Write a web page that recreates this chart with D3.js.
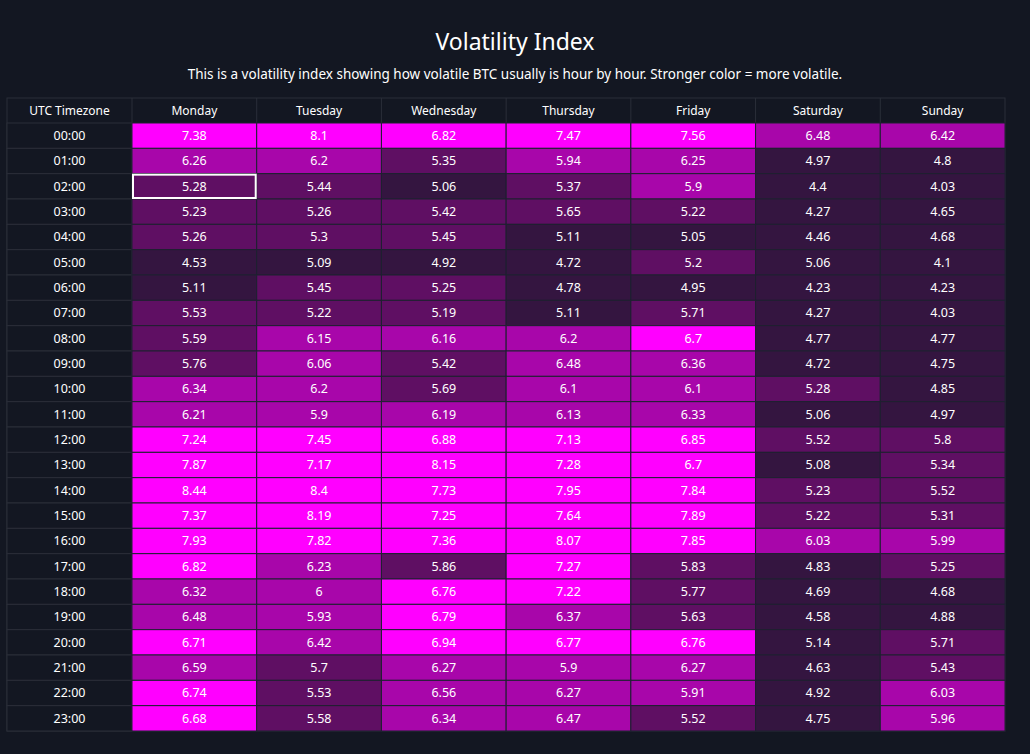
<!DOCTYPE html>
<html>
<head>
<meta charset="utf-8">
<script src="https://cdn.jsdelivr.net/npm/d3@7"></script>
<style>
  body { margin: 0; background: #131722; }
  svg { display: block; font-family: "Noto Sans", sans-serif; }
</style>
</head>
<body>
<svg id="chart"></svg>
<script>
// DATA

const days = ["Monday", "Tuesday", "Wednesday", "Thursday", "Friday", "Saturday", "Sunday"];

const hours = ["00:00", "01:00", "02:00", "03:00", "04:00", "05:00", "06:00", "07:00",
    "08:00", "09:00", "10:00", "11:00", "12:00", "13:00", "14:00", "15:00",
    "16:00", "17:00", "18:00", "19:00", "20:00", "21:00", "22:00", "23:00"];

// one row per hour, Monday .. Sunday
const volatility = [
    [7.38, 8.1, 6.82, 7.47, 7.56, 6.48, 6.42],
    [6.26, 6.2, 5.35, 5.94, 6.25, 4.97, 4.8],
    [5.28, 5.44, 5.06, 5.37, 5.9, 4.4, 4.03],
    [5.23, 5.26, 5.42, 5.65, 5.22, 4.27, 4.65],
    [5.26, 5.3, 5.45, 5.11, 5.05, 4.46, 4.68],
    [4.53, 5.09, 4.92, 4.72, 5.2, 5.06, 4.1],
    [5.11, 5.45, 5.25, 4.78, 4.95, 4.23, 4.23],
    [5.53, 5.22, 5.19, 5.11, 5.71, 4.27, 4.03],
    [5.59, 6.15, 6.16, 6.2, 6.7, 4.77, 4.77],
    [5.76, 6.06, 5.42, 6.48, 6.36, 4.72, 4.75],
    [6.34, 6.2, 5.69, 6.1, 6.1, 5.28, 4.85],
    [6.21, 5.9, 6.19, 6.13, 6.33, 5.06, 4.97],
    [7.24, 7.45, 6.88, 7.13, 6.85, 5.52, 5.8],
    [7.87, 7.17, 8.15, 7.28, 6.7, 5.08, 5.34],
    [8.44, 8.4, 7.73, 7.95, 7.84, 5.23, 5.52],
    [7.37, 8.19, 7.25, 7.64, 7.89, 5.22, 5.31],
    [7.93, 7.82, 7.36, 8.07, 7.85, 6.03, 5.99],
    [6.82, 6.23, 5.86, 7.27, 5.83, 4.83, 5.25],
    [6.32, 6, 6.76, 7.22, 5.77, 4.69, 4.68],
    [6.48, 5.93, 6.79, 6.37, 5.63, 4.58, 4.88],
    [6.71, 6.42, 6.94, 6.77, 6.76, 5.14, 5.71],
    [6.59, 5.7, 6.27, 5.9, 6.27, 4.63, 5.43],
    [6.74, 5.53, 6.56, 6.27, 5.91, 4.92, 6.03],
    [6.68, 5.58, 6.34, 6.47, 5.52, 4.75, 5.96]
];

const colorBreaks = [5.17, 5.88, 6.6];
const colorSteps = ["#341540", "#5f0f63", "#a806aa", "#ff00ff"];

// LAYOUT

const width = 1030;
const height = 754;
const tableLeft = 7;
const tableRight = 1005;
const tableTop = 98;
const headerHeight = 25;
const tableBottom = 731;
const firstColWidth = 125;

const svg = d3.select("#chart")
    .attr("width", width)
    .attr("height", height);

svg.append("text")
    .attr("x", width / 2)
    .attr("y", 50)
    .attr("text-anchor", "middle")
    .attr("fill", "#ffffff")
    .attr("font-size", 23)
    .text("Volatility Index");

svg.append("text")
    .attr("x", width / 2)
    .attr("y", 79)
    .attr("text-anchor", "middle")
    .attr("fill", "#ffffff")
    .attr("font-size", 13.5)
    .text("This is a volatility index showing how volatile BTC usually is hour by hour. Stronger color = more volatile.");

const x = d3.scaleBand()
    .domain(days)
    .range([tableLeft + firstColWidth, tableRight]);

const y = d3.scaleBand()
    .domain(hours)
    .range([tableTop + headerHeight, tableBottom]);

const color = d3.scaleThreshold()
    .domain(colorBreaks)
    .range(colorSteps);

const gridColor = "#2a2e39";

// header row
svg.append("rect")
    .attr("x", tableLeft)
    .attr("y", tableTop)
    .attr("width", tableRight - tableLeft)
    .attr("height", tableBottom - tableTop)
    .attr("fill", "#131722")
    .attr("stroke", gridColor);

svg.append("text")
    .attr("x", tableLeft + firstColWidth / 2)
    .attr("y", tableTop + headerHeight / 2)
    .attr("dy", "0.35em")
    .attr("text-anchor", "middle")
    .attr("fill", "#ffffff")
    .attr("font-size", 12)
    .text("UTC Timezone");

svg.selectAll(".dayLabel")
    .data(days)
    .join("text")
    .attr("class", "dayLabel")
    .attr("x", d => x(d) + x.bandwidth() / 2)
    .attr("y", tableTop + headerHeight / 2)
    .attr("dy", "0.35em")
    .attr("text-anchor", "middle")
    .attr("fill", "#ffffff")
    .attr("font-size", 12)
    .text(d => d);

// hour column
svg.selectAll(".hourCell")
    .data(hours)
    .join("rect")
    .attr("class", "hourCell")
    .attr("x", tableLeft)
    .attr("y", d => y(d))
    .attr("width", firstColWidth)
    .attr("height", y.bandwidth())
    .attr("fill", "#131722")
    .attr("stroke", gridColor);

svg.selectAll(".hourLabel")
    .data(hours)
    .join("text")
    .attr("class", "hourLabel")
    .attr("x", tableLeft + firstColWidth / 2)
    .attr("y", d => y(d) + y.bandwidth() / 2)
    .attr("dy", "0.35em")
    .attr("text-anchor", "middle")
    .attr("fill", "#ffffff")
    .attr("font-size", 12.5)
    .text(d => d);

// header separators
svg.selectAll(".headSep")
    .data(days)
    .join("line")
    .attr("class", "headSep")
    .attr("x1", d => x(d))
    .attr("x2", d => x(d))
    .attr("y1", tableTop)
    .attr("y2", tableTop + headerHeight)
    .attr("stroke", gridColor);

// heat cells
let cells = [];
for (let h = 0; h < hours.length; h++) {
    for (let d = 0; d < days.length; d++) {
        cells.push({ hour: hours[h], day: days[d], value: volatility[h][d] });
    }
}

svg.selectAll(".cell")
    .data(cells)
    .join("rect")
    .attr("class", "cell")
    .attr("x", d => x(d.day))
    .attr("y", d => y(d.hour))
    .attr("width", x.bandwidth())
    .attr("height", y.bandwidth())
    .attr("fill", d => color(d.value))
    .attr("stroke", "#1e2130")
    .attr("stroke-width", 1);

svg.selectAll(".cellLabel")
    .data(cells)
    .join("text")
    .attr("class", "cellLabel")
    .attr("x", d => x(d.day) + x.bandwidth() / 2)
    .attr("y", d => y(d.hour) + y.bandwidth() / 2)
    .attr("dy", "0.35em")
    .attr("text-anchor", "middle")
    .attr("fill", "#ffffff")
    .attr("font-size", 12.5)
    .text(d => d.value);

// selected cell outline
svg.append("rect")
    .attr("x", x("Monday") + 1)
    .attr("y", y("02:00") + 1)
    .attr("width", x.bandwidth() - 2)
    .attr("height", y.bandwidth() - 2)
    .attr("fill", "none")
    .attr("stroke", "#ffffff")
    .attr("stroke-width", 2);
</script>
</body>
</html>
